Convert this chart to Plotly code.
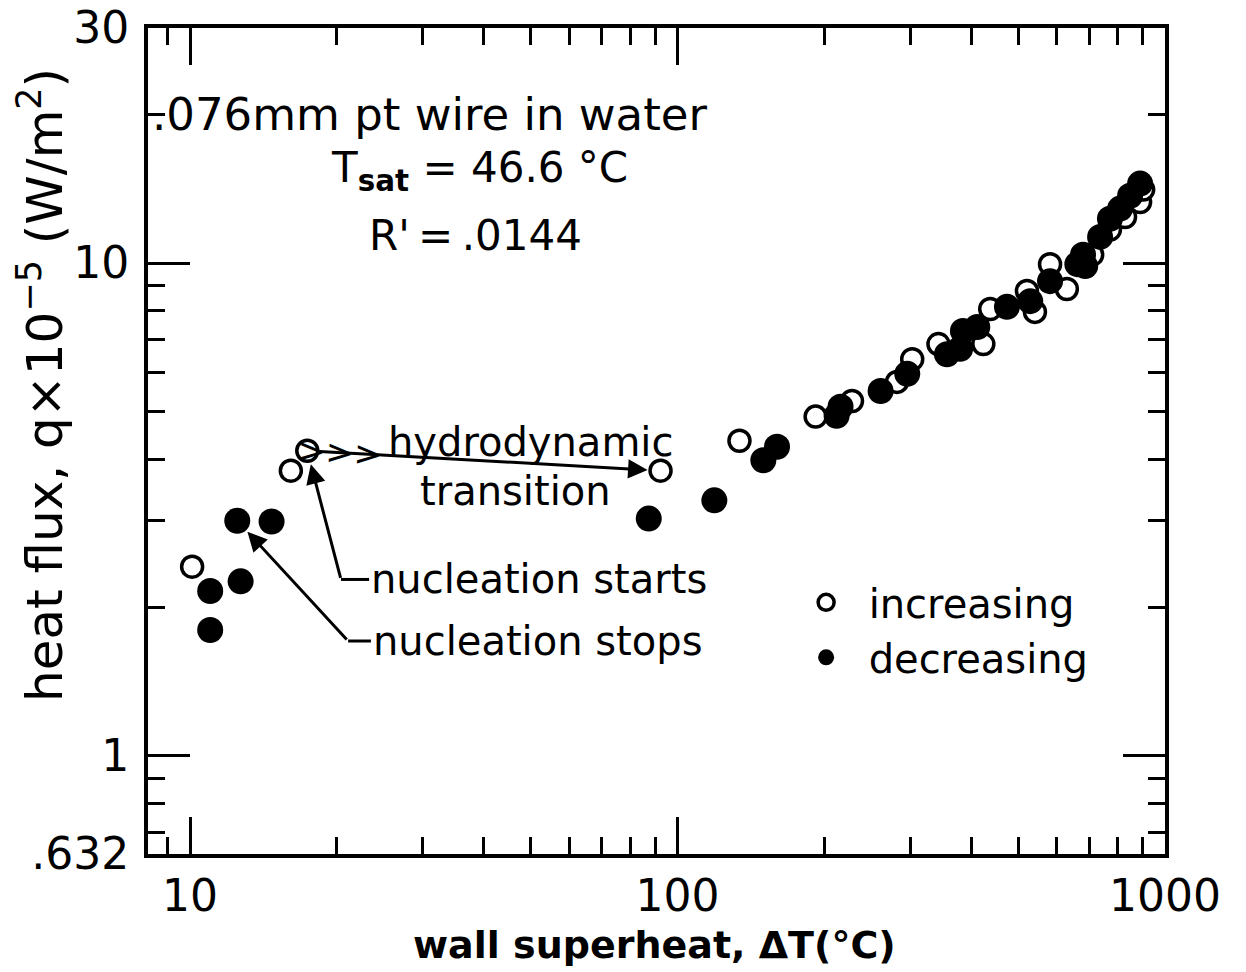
import numpy as np
import plotly.graph_objects as go

# --- data (wall superheat dT in C, heat flux q x 1e-5 W/m2) ---
inc_dT = [10.1, 16.1, 17.4, 92.3, 134, 192, 228, 282, 303, 343, 424, 438, 521, 541,
          581, 629, 709, 771, 828, 889, 902]
inc_q = [2.42, 3.79, 4.16, 3.79, 4.36, 4.88, 5.25, 5.74, 6.38, 6.85, 6.85, 8.07, 8.78, 7.96,
         9.95, 8.86, 10.4, 11.7, 12.4, 13.3, 14.1]

dec_dT = [11.0, 11.0, 12.5, 12.7, 14.7, 87.3, 119, 150, 160, 216, 212, 261, 296, 357,
          380, 385, 412, 474, 529, 581, 661, 679, 686, 736, 771, 809, 848, 889]
dec_q = [2.16, 1.80, 3.00, 2.26, 2.99, 3.03, 3.30, 3.98, 4.24, 5.11, 4.90, 5.50, 5.96, 6.53,
         6.70, 7.28, 7.42, 8.15, 8.37, 9.19, 9.95, 10.4, 9.86, 11.3, 12.3, 12.9, 13.7, 14.5]

x_tickvals = [10, 100, 1000]
x_ticktext = ["10", "100", "1000"]
y_tickvals = [0.632, 1, 10, 30]
y_ticktext = [".632", "1", "10", "30"]

# annotation anchors (dT, q)
hydro_from = (17.4, 4.16)
hydro_to = (92.3, 3.79)
starts_text = (23.3, 2.28)
starts_bend = (20.4, 2.28)
starts_tip = (17.4, 4.16)
stops_text = (23.5, 1.71)
stops_bend = (21.1, 1.71)
stops_tip = (12.5, 3.00)

FONT = "DejaVu Sans"
lg = np.log10

fig = go.Figure()

fig.add_trace(go.Scatter(
    x=inc_dT, y=inc_q, mode="markers", name="increasing",
    marker=dict(symbol="circle", size=21, color="white",
                line=dict(color="black", width=3.5)),
))
fig.add_trace(go.Scatter(
    x=dec_dT, y=dec_q, mode="markers", name="decreasing",
    marker=dict(symbol="circle", size=26, color="black", line=dict(width=0)),
))

# leader stubs next to the nucleation labels
for a, b in [(starts_text, starts_bend), (stops_text, stops_bend)]:
    fig.add_trace(go.Scatter(x=[a[0], b[0]], y=[a[1], b[1]], mode="lines",
                             line=dict(color="black", width=3), showlegend=False,
                             hoverinfo="skip"))

arrow_kw = dict(xref="x", yref="y", axref="x", ayref="y", text="", showarrow=True,
                arrowhead=2, arrowsize=1.3, arrowwidth=3, arrowcolor="black")

fig.add_annotation(x=lg(hydro_to[0]), y=lg(hydro_to[1]),
                   ax=lg(hydro_from[0]), ay=lg(hydro_from[1]),
                   standoff=13, startstandoff=11, **arrow_kw)
fig.add_annotation(x=lg(starts_tip[0]), y=lg(starts_tip[1]),
                   ax=lg(starts_bend[0]), ay=lg(starts_bend[1]),
                   standoff=14, **arrow_kw)
fig.add_annotation(x=lg(stops_tip[0]), y=lg(stops_tip[1]),
                   ax=lg(stops_bend[0]), ay=lg(stops_bend[1]),
                   standoff=15, **arrow_kw)

# fletching chevrons on the transition arrow
fig.add_annotation(x=lg(20.3), y=lg(4.13), xref="x", yref="y", text="&gt;&gt;&gt;",
                   showarrow=False, textangle=3,
                   font=dict(family=FONT, size=34, color="black"))

txt = dict(showarrow=False, font=dict(family=FONT, size=40, color="black"))
fig.add_annotation(x=lg(50), y=lg(4.33), xref="x", yref="y", text="hydrodynamic",
                   xanchor="center", **txt)
fig.add_annotation(x=lg(46.6), y=lg(3.45), xref="x", yref="y", text="transition",
                   xanchor="center", **txt)
fig.add_annotation(x=lg(starts_text[0]), y=lg(starts_text[1]), xref="x", yref="y",
                   text="nucleation starts", xanchor="left", **txt)
fig.add_annotation(x=lg(stops_text[0]), y=lg(stops_text[1]), xref="x", yref="y",
                   text="nucleation stops", xanchor="left", **txt)

big = dict(showarrow=False, xref="paper", yref="paper", yanchor="middle")
fig.add_annotation(x=0.002, y=0.895, text=".076mm pt wire in water", xanchor="left",
                   font=dict(family=FONT, size=45, color="black"), **big)
fig.add_annotation(x=0.326, y=0.828, text="T<sub><b>sat</b></sub> = 46.6 °C",
                   xanchor="center", font=dict(family=FONT, size=42, color="black"), **big)
fig.add_annotation(x=0.322, y=0.749, text="R'\u2009=\u2009.0144", xanchor="center",
                   font=dict(family=FONT, size=42, color="black"), **big)

# axis titles
fig.add_annotation(x=0.4985, y=-0.110, xref="paper", yref="paper", showarrow=False,
                   text="<b>wall superheat, ΔT(°C)</b>", xanchor="center",
                   yanchor="middle", font=dict(family=FONT, size=38, color="black"))
fig.add_annotation(x=-0.104, y=0.568, xref="paper", yref="paper", showarrow=False,
                   textangle=-90, xanchor="center", yanchor="middle",
                   text="heat flux, q×10<sup>−5</sup> (W/m<sup>2</sup>)",
                   font=dict(family=FONT, size=50, color="black"))

axis_common = dict(
    type="log", showline=True, linewidth=4, linecolor="black", mirror="ticks",
    ticks="inside", tickwidth=3, tickcolor="black", showgrid=False, zeroline=False,
    automargin=False, ticklabeloverflow="allow",
    tickfont=dict(family=FONT, size=44, color="black"),
    minor=dict(ticks="inside", ticklen=17, tickwidth=3, tickcolor="black",
               dtick="D1", showgrid=False),
)

fig.update_xaxes(range=[lg(8.2), 3], tickmode="array", tickvals=x_tickvals,
                 ticktext=x_ticktext, ticklen=37, ticklabelstandoff=0, **axis_common)
fig.update_yaxes(range=[lg(0.632), lg(30)], tickmode="array", tickvals=y_tickvals,
                 ticktext=y_ticktext, ticklen=42, ticklabelstandoff=6, **axis_common)

# page body adds an 8px offset; margins compensate so the frame lands where intended
fig.update_layout(
    width=1246, height=972,
    margin=dict(l=140, r=89, t=20, b=126, autoexpand=False),
    plot_bgcolor="white", paper_bgcolor="white",
    font=dict(family=FONT, color="black"),
    legend=dict(x=0.625, y=0.344, xanchor="left", yanchor="top",
                bgcolor="rgba(0,0,0,0)", font=dict(family=FONT, size=40),
                itemwidth=75, tracegroupgap=30),
)

fig.write_html("out.html")
